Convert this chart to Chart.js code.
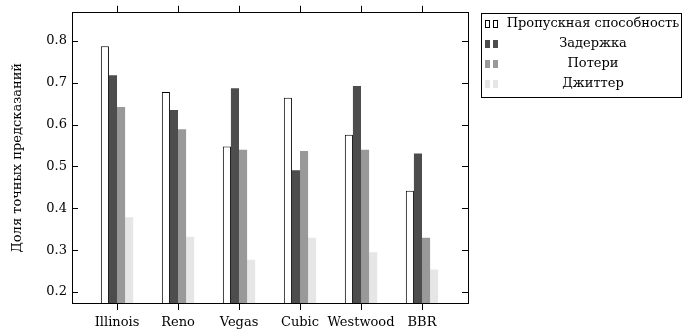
<!DOCTYPE html>
<html>
<head>
  <title>Доля точных предсказаний</title>
  <script src="https://cdn.jsdelivr.net/npm/chart.js"></script>
  <style>
    body { margin: 0; background: #fff; }
    #wrap { width: 687px; height: 329px; }
  </style>
</head>
<body>
  <div id="wrap"><canvas id="chart" width="687" height="329"></canvas></div>

  <script>
    const categories = ['Illinois', 'Reno', 'Vegas', 'Cubic', 'Westwood', 'BBR'];
    const seriesNames = ['Пропускная способность', 'Задержка', 'Потери', 'Джиттер'];
    const throughput = [0.787, 0.678, 0.548, 0.664, 0.576, 0.442];
    const delay = [0.718, 0.635, 0.687, 0.491, 0.692, 0.531];
    const loss = [0.642, 0.589, 0.540, 0.537, 0.540, 0.330];
    const jitter = [0.379, 0.332, 0.277, 0.330, 0.295, 0.254];
    const yTicks = [0.2, 0.3, 0.4, 0.5, 0.6, 0.7, 0.8];

    const fills = ['#ffffff', '#4d4d4d', '#999999', '#e6e6e6'];
    const font = { family: 'DejaVu Serif', size: 13 };

    function points(values) {
      return values.map((v, i) => ({ x: i, y: v }));
    }

    const datasets = [throughput, delay, loss, jitter].map((vals, k) => ({
      label: seriesNames[k],
      data: points(vals),
      backgroundColor: fills[k],
      borderColor: '#000',
      borderWidth: k === 0 ? 1 : 0,
      barPercentage: 1,
      categoryPercentage: 0.53
    }));

    const catTicks = scale => { scale.ticks = categories.map((c, i) => ({ value: i })); };
    const valTicks = scale => { scale.ticks = yTicks.map(v => ({ value: v })); };

    // inward ticks on left/right axes and the legend box
    const extras = {
      id: 'extras',
      afterDraw(chart) {
        const ctx = chart.ctx;
        const area = chart.chartArea;
        const y = chart.scales.y;
        ctx.save();
        ctx.strokeStyle = '#000';
        ctx.lineWidth = 1;
        ctx.beginPath();
        yTicks.forEach(v => {
          const py = Math.round(y.getPixelForValue(v)) + 0.5;
          ctx.moveTo(area.left, py); ctx.lineTo(area.left + 6, py);
          ctx.moveTo(area.right, py); ctx.lineTo(area.right - 6, py);
        });
        ctx.stroke();

        // legend
        const lx = 481.5, ly = 13.5, lw = 200, lh = 84;
        ctx.strokeRect(lx, ly, lw, lh);
        ctx.font = font.size + 'px ' + font.family;
        ctx.textAlign = 'center';
        ctx.textBaseline = 'middle';
        ctx.fillStyle = '#000';
        chart.data.datasets.forEach((ds, k) => {
          const cy = 24 + k * 20;
          [485, 493].forEach(ix => {
            ctx.fillStyle = ds.backgroundColor;
            ctx.fillRect(ix, cy - 4, 5, 8);
            if (ds.borderWidth) {
              ctx.strokeStyle = '#000';
              ctx.strokeRect(ix + 0.5, cy - 3.5, 4, 7);
            }
          });
          ctx.fillStyle = '#000';
          ctx.fillText(ds.label, 593, cy);
        });
        ctx.restore();
      }
    };

    new Chart(document.getElementById('chart'), {
      type: 'bar',
      data: { datasets },
      plugins: [extras],
      options: {
        responsive: false,
        animation: false,
        layout: { padding: 0 },
        plugins: { legend: { display: false }, tooltip: { enabled: false } },
        scales: {
          x: {
            type: 'linear',
            position: 'bottom',
            offset: false,
            min: -0.738,
            max: 5.754,
            afterBuildTicks: catTicks,
            afterFit: s => { s.height = 26; },
            grid: { offset: false, drawOnChartArea: false, tickLength: 7, color: '#000' },
            border: { display: true, color: '#000', width: 1 },
            ticks: {
              font, color: '#000', padding: 5, maxRotation: 0, autoSkip: false,
              callback: v => categories[v]
            }
          },
          x2: {
            type: 'linear',
            position: 'top',
            offset: false,
            min: -0.738,
            max: 5.754,
            afterBuildTicks: catTicks,
            afterFit: s => { s.height = 12; },
            grid: { offset: false, drawOnChartArea: false, tickLength: 7, color: '#000' },
            border: { display: true, color: '#000', width: 1 },
            ticks: { display: false }
          },
          y: {
            position: 'left',
            min: 0.174,
            max: 0.867,
            afterBuildTicks: valTicks,
            afterFit: s => { s.width = 72; },
            grid: { display: false, drawTicks: false },
            border: { display: true, color: '#000', width: 1 },
            ticks: { font, color: '#000', padding: 5, callback: v => v.toFixed(1) },
            title: {
              display: true,
              text: 'Доля точных предсказаний',
              font, color: '#000',
              padding: { top: 10, bottom: 0 }
            }
          },
          y2: {
            position: 'right',
            min: 0.174,
            max: 0.867,
            afterBuildTicks: valTicks,
            afterFit: s => { s.width = 219; },
            grid: { display: false, drawTicks: false },
            border: { display: true, color: '#000', width: 1 },
            ticks: { display: false }
          }
        }
      }
    });
  </script>
</body>
</html>
